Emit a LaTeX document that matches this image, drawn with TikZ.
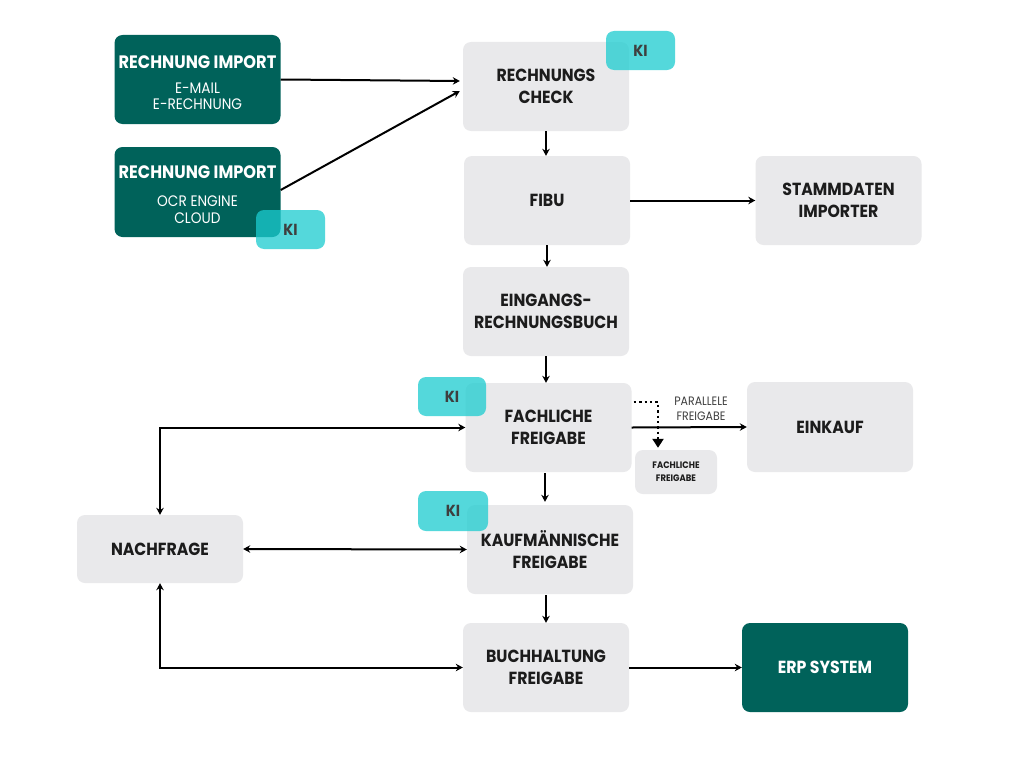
\documentclass[tikz,border=0pt]{standalone}
\usepackage{fontspec}
\setmainfont{Poppins}[FakeStretch=0.9]
\usetikzlibrary{arrows.meta,calc}
\definecolor{dgreen}{HTML}{00625A}
\definecolor{lgray}{HTML}{E9E9EB}
\definecolor{kicyan}{RGB}{28,204,208}
\definecolor{txt}{HTML}{1C1C1C}
\begin{document}
\begin{tikzpicture}[x=1pt,y=-1pt,
  box/.style={rounded corners=8pt, minimum width=166pt, minimum height=89pt, align=center, inner sep=0pt, font=\fontsize{17.5}{21.5}\selectfont\bfseries},
  graybox/.style={box, fill=lgray, text=txt},
  greenbox/.style={box, fill=dgreen, text=white},
  ttltext/.style={inner sep=0pt, text=white, font=\fontsize{18}{20}\selectfont\bfseries},
  subtext/.style={inner sep=0pt, text=white, font=\fontsize{15.2}{16}\selectfont},
  kibadge/.style={rounded corners=8pt, fill=kicyan, fill opacity=0.75, text opacity=1, minimum width=69pt, minimum height=39pt, inner sep=0pt, text=txt!85, font=\fontsize{16}{16}\selectfont\bfseries},
  arr/.style={line width=2pt, -{Stealth[length=7pt,width=7.5pt]}},
  darr/.style={line width=2pt, {Stealth[length=7pt,width=7.5pt]}-{Stealth[length=7pt,width=7.5pt]}},
]
\useasboundingbox[fill=white] (0,0) rectangle (1024,768);

% import boxes
\node[greenbox] (imp1) at (197.5,79.5) {};
\node[ttltext] (imp1t) at (197.5,62) {RECHNUNG IMPORT};
\node[subtext] (imp1a) at (197.5,88) {E-MAIL};
\node[subtext] (imp1b) at (197.5,104) {E-RECHNUNG};
\node[greenbox, minimum height=90pt] (imp2) at (197.5,192) {};
\node[ttltext] (imp2t) at (197.5,172) {RECHNUNG IMPORT};
\node[subtext] (imp2a) at (197.5,201) {OCR ENGINE};
\node[subtext] (imp2b) at (197.5,218) {CLOUD};

% process boxes
\node[graybox] (check) at (546,86.5) {RECHNUNGS\\CHECK};
\node[graybox] (fibu) at (547,200.5) {FIBU};
\node[graybox] (stamm) at (838.5,200.5) {STAMMDATEN\\IMPORTER};
\node[graybox] (eing) at (546,311.5) {EINGANGS-\\RECHNUNGSBUCH};
\node[graybox] (fach) at (548.5,427.5) {FACHLICHE\\FREIGABE};
\node[graybox, minimum width=82pt, minimum height=44pt, font=\fontsize{9.4}{13}\selectfont\bfseries] (small) at (676,472) {FACHLICHE\\FREIGABE};
\node[graybox, minimum height=90pt] (eink) at (830,427) {EINKAUF};
\node[graybox, minimum height=68pt] (nach) at (160,549) {NACHFRAGE};
\node[graybox] (kauf) at (550,549.5) {KAUFMÄNNISCHE\\FREIGABE};
\node[graybox] (buch) at (546,667.5) {BUCHHALTUNG\\FREIGABE};
\node[greenbox] (erp) at (825,667.5) {ERP SYSTEM};

% KI badges
\node[kibadge] (ki1) at (290.5,229.5) {KI};
\node[kibadge] (ki2) at (640.5,50.5) {KI};
\node[kibadge, minimum width=68pt] (ki3) at (452,396.5) {KI};
\node[kibadge, minimum width=70pt, minimum height=40pt] (ki4) at (453,511) {KI};

% connectors
\draw[arr] (imp1.east) -- ($(check.west)+(-3,-5.5)$);
\draw[arr] ($(imp2.east)+(0,-2)$) -- ($(check.west)+(-3,4.5)$);
\draw[arr] (check.south) -- (check.south |- fibu.north);
\draw[arr] (fibu.south) -- (fibu.south |- eing.north);
\draw[arr] (eing.south) -- (eing.south |- fach.north);
\draw[arr] ($(fach.south)+(-3.5,1)$) -- ($(kauf.north)+(-5,-3)$);
\draw[arr] ($(kauf.south)+(-4,1)$) -- (buch.north);
\draw[arr] (fibu.east) -- (stamm.west);
\draw[arr] (fach.east) -- (eink.west);
\draw[darr] (nach.east) -- (kauf.west);
\draw[darr] (fach.west) -| (nach.north);
\draw[darr] (nach.south) |- (buch.west);
\draw[arr] (buch.east) -- (erp.west);

% dotted parallel connector
\coordinate (dstart) at ($(fach.east)+(2,-25.5)$);
\draw[line width=2.4pt, dash pattern=on 2.4pt off 3pt, -{Triangle[length=9pt,width=11pt]}] (dstart) -| ($(small.north)+(-18,-2)$);
\node[align=center, text=txt!85, font=\fontsize{12.2}{14.5}\selectfont, inner sep=0pt] (plabel) at (701,409) {PARALLELE\\FREIGABE};
\end{tikzpicture}
\end{document}
